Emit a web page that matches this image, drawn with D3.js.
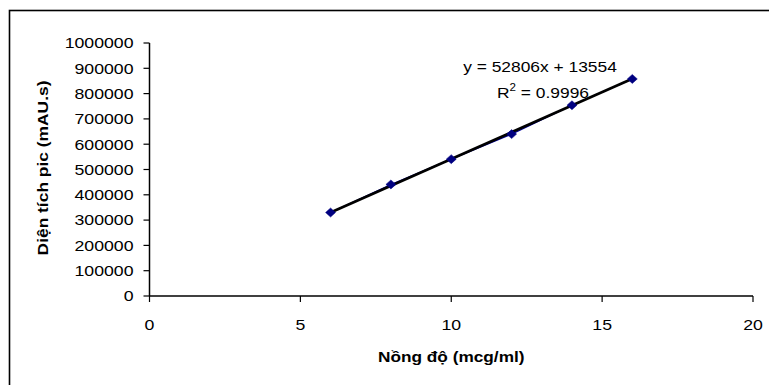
<!DOCTYPE html>
<html><head><meta charset="utf-8">
<script src="https://cdn.jsdelivr.net/npm/d3@7"></script>
<style>body{margin:0;background:#fff}svg{display:block}text{font-family:Arial,"Liberation Sans",sans-serif;fill:#000}</style>
</head><body>
<svg id="c" width="769" height="385"></svg>
<script>
const concentrations = [6, 8, 10, 12, 14, 16];
const peakAreas = [330000, 441000, 541000, 640000, 754000, 858000];
const xTicks = [0, 5, 10, 15, 20];
const yTicks = [0,100000,200000,300000,400000,500000,600000,700000,800000,900000,1000000];
const slope = 52806, intercept = 13554;
const equationText = "y = 52806x + 13554";
const r2Value = "0.9996";
const xTitle = "Nồng độ (mcg/ml)";
const yTitle = "Diện tích pic (mAU.s)";

const svg = d3.select("#c");
const sx = 1.18;
const x = d3.scaleLinear().domain([0,20]).range([149.5,753]);
const y = d3.scaleLinear().domain([0,1000000]).range([296,43]);

svg.append("rect").attr("x",9.5).attr("y",10.5).attr("width",820).attr("height",420)
  .attr("fill","none").attr("stroke","#000").attr("stroke-width",1.6);

// y axis
const ya = svg.append("g");
ya.append("line").attr("x1",x(0)).attr("x2",x(0)).attr("y1",y(1000000)).attr("y2",y(0)).attr("stroke","#000").attr("stroke-width",1.5);
yTicks.forEach(t=>{
  ya.append("line").attr("x1",x(0)-6).attr("x2",x(0)).attr("y1",y(t)).attr("y2",y(t)).attr("stroke","#000").attr("stroke-width",1.2);
  ya.append("text").attr("transform",`translate(${x(0)-16},${y(t)+5.3}) scale(${sx},1)`)
    .attr("text-anchor","end").attr("font-size",15).text(t);
});
// x axis
const xa = svg.append("g");
xa.append("line").attr("x1",x(0)).attr("x2",x(20)).attr("y1",y(0)).attr("y2",y(0)).attr("stroke","#000").attr("stroke-width",1.5);
xTicks.forEach(t=>{
  xa.append("line").attr("x1",x(t)).attr("x2",x(t)).attr("y1",y(0)).attr("y2",y(0)+6).attr("stroke","#000").attr("stroke-width",1.2);
  xa.append("text").attr("transform",`translate(${x(t)},${y(0)+33.5}) scale(${sx},1)`)
    .attr("text-anchor","middle").attr("font-size",15).text(t);
});

// titles
svg.append("text").attr("transform",`translate(${(x(0)+x(20))/2},362) scale(1.15,1)`)
  .attr("text-anchor","middle").attr("font-size",15).attr("font-weight","bold").text(xTitle);
svg.append("text").attr("transform",`translate(48,168) rotate(-90) scale(1.16,1)`)
  .attr("text-anchor","middle").attr("font-size",15).attr("font-weight","bold").text(yTitle);

// data line
const pts = concentrations.map((c,i)=>[c,peakAreas[i]]);
svg.append("path").datum(pts).attr("fill","none").attr("stroke","#0000a0").attr("stroke-width",1.2)
  .attr("d",d3.line().x(d=>x(d[0])).y(d=>y(d[1])));
// trendline
const xs = d3.extent(concentrations);
svg.append("line").attr("x1",x(xs[0])).attr("y1",y(slope*xs[0]+intercept))
  .attr("x2",x(xs[1])).attr("y2",y(slope*xs[1]+intercept)).attr("stroke","#000").attr("stroke-width",2.7);
// markers
svg.selectAll(".m").data(pts).join("path").attr("class","m")
  .attr("transform",d=>`translate(${x(d[0])},${y(d[1])})`)
  .attr("d","M0,-4.5L5,0L0,4.5L-5,0Z").attr("fill","#000080").attr("stroke","#000080").attr("stroke-width",0.5);

// equation labels
svg.append("text").attr("transform",`translate(540,71.5) scale(1.16,1)`).attr("text-anchor","middle").attr("font-size",15).text(equationText);
const r2 = svg.append("text").attr("transform",`translate(543,98) scale(1.16,1)`).attr("text-anchor","middle").attr("font-size",15);
r2.append("tspan").text("R");
r2.append("tspan").attr("dy",-7).attr("font-size",10).text("2");
r2.append("tspan").attr("dy",7).text(" = " + r2Value);
</script>
</body></html>
